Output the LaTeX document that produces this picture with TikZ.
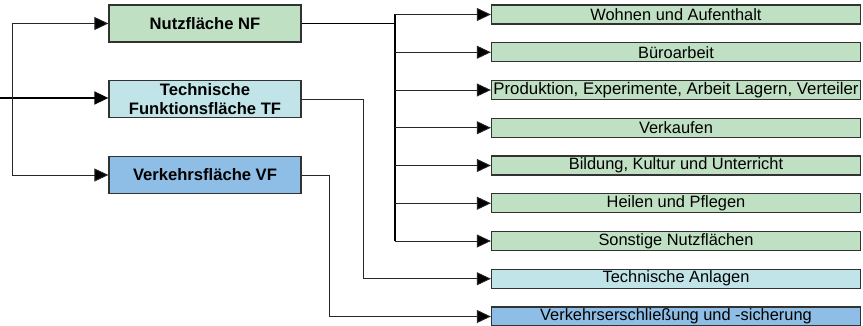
\documentclass[tikz,border=0pt]{standalone}
\usepackage{fontspec}
\setmainfont{Liberation Sans}
\usetikzlibrary{arrows.meta,positioning,calc}
\definecolor{nfgreen}{RGB}{191,224,194}
\definecolor{tfblue}{RGB}{193,228,233}
\definecolor{vfblue}{RGB}{142,189,230}
\definecolor{rahmen}{RGB}{50,50,50}
\begin{document}
\begin{tikzpicture}[x=1pt,y=-1pt,
		hauptbox/.style={draw=rahmen,line width=1.3pt,minimum width=192pt,minimum height=37pt,inner sep=0pt,align=center,font=\fontsize{16.6}{19.5}\selectfont\bfseries},
		unterbox/.style={draw=rahmen,line width=1.3pt,minimum width=369pt,minimum height=19pt,inner sep=0pt,font=\fontsize{16.4}{17}\selectfont},
		pfeil/.style={-{Triangle[length=14pt,width=13pt,fill=black]},line width=0.9pt,draw=black!85},
		dickpfeil/.style={pfeil,line width=1.7pt,draw=black}]
		\useasboundingbox (0,0) rectangle (863,326);
		% linke Spalte
		\node [hauptbox,fill=nfgreen] (NF) at (205,23.5) {Nutzfläche NF};
		\node [hauptbox,fill=tfblue] (TF) at (205,99) {Technische\\Funktionsfläche TF};
		\node [hauptbox,fill=vfblue] (VF) at (205,175) {Verkehrsfläche VF};
		% rechte Spalte
		\foreach \i/\farbe/\text in {1/nfgreen/Wohnen und Aufenthalt,
				2/nfgreen/Büroarbeit,
				3/nfgreen/{\fontsize{16.8}{17}\selectfont Produktion, Experimente, Arbeit Lagern, Verteiler},
				4/nfgreen/Verkaufen,
				5/nfgreen/{Bildung, Kultur und Unterricht},
				6/nfgreen/Heilen und Pflegen,
				7/nfgreen/Sonstige Nutzflächen,
				8/tfblue/Technische Anlagen,
				9/vfblue/Verkehrserschließung und -sicherung}
			\node [unterbox,fill=\farbe] (r\i) at (676,{14.5+37.75*(\i-1)}) {\text};
		% Verbindungen
		\coordinate (ein) at (0,98);
		\coordinate (split) at (12,98);
		\coordinate (nfbus) at (395,0);
		\coordinate (tfbus) at (363,0);
		\coordinate (vfbus) at (329,0);
		\draw [dickpfeil] (ein) -- (TF.west |- ein);
		\draw [pfeil] (split) |- (NF.west);
		\draw [pfeil] (split) |- (VF.west);
		\draw [line width=1.7pt] (NF.east) -- (NF.east -| nfbus);
		\draw [line width=1.7pt] (nfbus |- r1) -- (nfbus |- r7);
		\foreach \i in {1,...,7}
			\draw [pfeil] (nfbus |- r\i) -- (r\i.west);
		\draw [pfeil] (TF.east) -- (TF.east -| tfbus) |- (r8.west);
		\draw [pfeil] (VF.east) -- (VF.east -| vfbus) |- (r9.west);
\end{tikzpicture}
\end{document}
